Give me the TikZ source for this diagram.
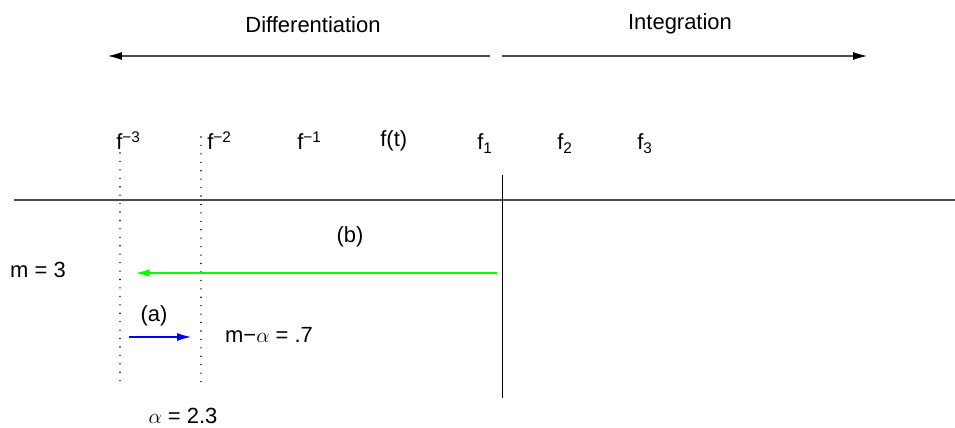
\documentclass[tikz,border=0pt]{standalone}
\usepackage{fontspec}
\setmainfont{Liberation Sans}
\usetikzlibrary{arrows.meta}

\begin{document}
\begin{tikzpicture}[x=0.02cm,y=-0.02cm,>=Latex,
  lbl/.style={inner sep=0pt,font=\fontsize{12.5}{15}\selectfont},
  flbl/.style={lbl,anchor=base west},
  rule/.style={draw=black!70,line width=0.6pt},
  guide/.style={draw=black,line width=0.9pt,line cap=round,dash pattern=on 0pt off 4.8pt},
  tip/.style={-{Latex[length=0.28cm,width=0.16cm,color=black]}}]
\useasboundingbox (0,0) rectangle (955,428);
% direction labels and arrows
\node[lbl] (diff) at (313,25) {Differentiation};
\node[lbl] (integ) at (680,24) {Integration};
\coordinate (diff_s) at (490,56);
\coordinate (diff_e) at (108,56);
\coordinate (int_s) at (502,56);
\coordinate (int_e) at (867,56);
\draw[rule,tip] (diff_s)--(diff_e);
\draw[rule,tip] (int_s)--(int_e);
% orders
\node[flbl] (f_m3) at (116,150) {f\textsuperscript{−3}};
\node[flbl] (f_m2) at (207,150) {f\textsuperscript{−2}};
\node[flbl] (f_m1) at (297,150) {f\textsuperscript{−1}};
\node[flbl] (f_t) at (380,147) {f(t)};
\node[flbl] (f_p1) at (477,150) {f\textsubscript{1}};
\node[flbl] (f_p2) at (557,150) {f\textsubscript{2}};
\node[flbl] (f_p3) at (637,150) {f\textsubscript{3}};
% axis and current order
\coordinate (ax_w) at (14,200);
\coordinate (ax_e) at (955,200);
\draw[rule] (ax_w)--(ax_e);
\coordinate (cut_t) at (502,175);
\coordinate (cut_b) at (502,398);
\draw[draw=black,line width=0.45pt] (cut_t)--(cut_b);
% dotted guides
\coordinate (g3_t) at (120,153);
\coordinate (g3_b) at (120,386);
\coordinate (g2_t) at (201,137);
\coordinate (g2_b) at (201,388);
\draw[guide] (g3_t)--(g3_b);
\draw[guide] (g2_t)--(g2_b);
% steps
\node[lbl] (lbl_b) at (350,237) {(b)};
\node[lbl] (lbl_m) at (38,270) {m = 3};
\coordinate (b_s) at (497,273);
\coordinate (b_e) at (136,273);
\draw[draw=green,line width=0.6pt,-{Latex[length=0.27cm,width=0.15cm]}] (b_s)--(b_e);
\node[lbl] (lbl_a) at (154,316) {(a)};
\coordinate (a_s) at (129,337);
\coordinate (a_e) at (191,337);
\draw[draw=blue,line width=0.6pt,-{Latex[length=0.28cm,width=0.16cm]}] (a_s)--(a_e);
\node[lbl] (lbl_rest) at (269,335) {m−$\alpha$ = .7};
\node[lbl] (lbl_alpha) at (183,416) {$\alpha$ = 2.3};
\end{tikzpicture}
\end{document}
